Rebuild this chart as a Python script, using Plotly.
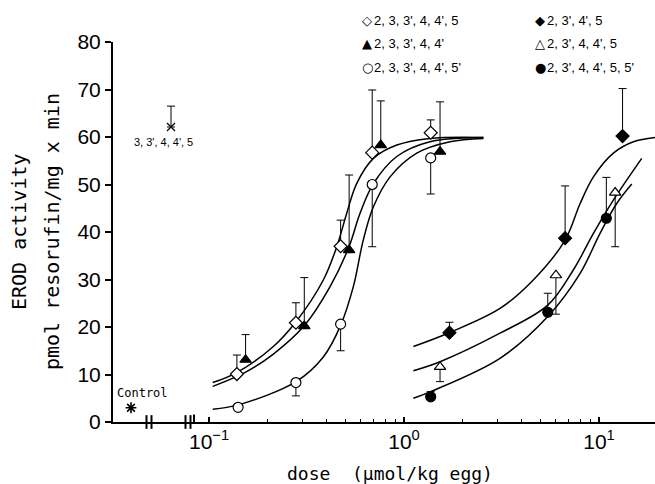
import plotly.graph_objects as go

# ---------------- data ----------------
# 2,3,3',4,4',5  (open diamond, error up)
dose_A = [0.139, 0.279, 0.473, 0.687, 1.37]
erod_A = [10.1, 20.9, 37.0, 56.7, 60.9]
err_A = [4.0, 4.2, 5.5, 13.2, 2.7]
# 2,3,3',4,4'  (filled triangle, error up)
dose_B = [0.154, 0.308, 0.523, 0.760, 1.53]
erod_B = [13.1, 20.2, 36.2, 58.3, 56.9]
err_B = [5.3, 10.2, 15.8, 9.3, 10.5]
# 2,3,3',4,4',5'  (open circle, error down)
dose_C = [0.141, 0.279, 0.473, 0.687, 1.37]
erod_C = [3.1, 8.3, 20.6, 50.0, 55.6]
err_C = [0.0, 2.8, 5.6, 13.1, 7.6]
# 2,3',4',5  (filled diamond, error up)
dose_D = [1.71, 6.70, 13.2]
erod_D = [18.8, 38.7, 60.2]
err_D = [2.2, 11.0, 10.0]
# 2,3',4,4',5  (open triangle, error down)
dose_E = [1.53, 6.01, 12.1]
erod_E = [11.6, 30.9, 48.3]
err_E = [3.1, 8.2, 11.4]
# 2,3',4,4',5,5'  (filled circle, error up)
dose_F = [1.37, 5.46, 10.9]
erod_F = [5.3, 23.1, 42.9]
err_F = [1.1, 4.0, 8.6]

# separate panel: control and 3,3',4,4',5
side_cats = ["Control", " ", "3,3',4,4',5"]
control_val = [3.0]
pcb126_val = [62.1]
pcb126_err = [4.4]

# fitted curves
fitA_dose = [0.1045, 0.1387, 0.2138, 0.2793, 0.3856, 0.4519, 0.5080, 0.5716, 0.6966, 0.9183, 1.358, 2.553]
fitA_erod = [8.3, 10.4, 15.9, 21.1, 29.9, 36.9, 43.9, 50.2, 55.5, 58.3, 59.7, 59.9]
fitB_dose = [0.1045, 0.1542, 0.2138, 0.3083, 0.4176, 0.5223, 0.5943, 0.6966, 0.9183, 1.358, 2.553]
fitB_erod = [7.5, 10.5, 14.3, 20.3, 28.5, 36.9, 43.9, 50.2, 55.9, 59.0, 59.9]
fitC_dose = [0.1045, 0.1413, 0.2793, 0.3856, 0.4735, 0.5495, 0.6180, 0.6966, 0.8482, 1.162, 1.721, 2.553]
fitC_erod = [2.7, 3.6, 8.5, 13.7, 20.4, 28.5, 38.3, 45.3, 51.6, 56.6, 59.0, 59.7]
fitD_dose = [1.117, 1.706, 3.105, 4.60, 6.70, 8.00, 9.36, 11.84, 15.0, 19.36]
fitD_erod = [15.9, 18.8, 23.9, 29.9, 38.3, 46.0, 51.6, 56.6, 59.0, 59.9]
fitE_dose = [1.117, 1.531, 3.105, 5.46, 7.38, 9.36, 11.84, 16.56]
fitE_erod = [10.8, 12.7, 18.7, 24.6, 32.0, 39.7, 46.7, 55.5]
fitF_dose = [1.117, 1.37, 3.105, 5.46, 8.00, 10.12, 12.32, 14.72]
fitF_erod = [5.0, 6.4, 13.4, 22.2, 31.3, 39.7, 46.0, 50.1]

x_tickvals = [0.1, 1, 10]
x_ticktext = ["10<sup>\u22121</sup>", "10<sup>0</sup>", "10<sup>1</sup>"]
x_minor = [0.2, 0.3, 0.4, 0.5, 0.6, 0.7, 0.8, 0.9, 2, 3, 4, 5, 6, 7, 8, 9]
y_tickvals = [0, 10, 20, 30, 40, 50, 60, 70, 80]

legend_rows = [
    ("\u25c7", "2, 3, 3', 4, 4', 5"),
    ("\u25b2", "2, 3, 3', 4, 4'"),
    ("\u25cb", "2, 3, 3', 4, 4', 5'"),
    ("\u25c6", "2, 3', 4', 5"),
    ("\u25b3", "2, 3', 4, 4', 5"),
    ("\u25cf", "2, 3', 4, 4', 5, 5'"),
]

# ---------------- figure ----------------
MONO = "DejaVu Sans Mono"
SANS = "Liberation Sans Narrow, Liberation Sans, Arial, sans-serif"
LEG = "Liberation Sans, DejaVu Sans, sans-serif"

fig = go.Figure()

for xd, yd in [(fitA_dose, fitA_erod), (fitB_dose, fitB_erod), (fitC_dose, fitC_erod),
               (fitD_dose, fitD_erod), (fitE_dose, fitE_erod), (fitF_dose, fitF_erod)]:
    fig.add_trace(go.Scatter(x=xd, y=yd, mode="lines", xaxis="x", yaxis="y",
                             line=dict(color="black", width=1.5, shape="spline", smoothing=1.0),
                             hoverinfo="skip", showlegend=False))


def points(x, y, err, up, symbol, fill, size):
    n = len(x)
    if up:
        ey = dict(type="data", symmetric=False, array=err, arrayminus=[0] * n)
    else:
        ey = dict(type="data", symmetric=False, array=[0] * n, arrayminus=err)
    ey.update(color="black", thickness=1, width=4)
    fig.add_trace(go.Scatter(x=x, y=y, mode="markers", xaxis="x", yaxis="y",
                             error_y=ey,
                             marker=dict(symbol=symbol, size=size, color=fill,
                                         line=dict(color="black", width=1.2)),
                             showlegend=False))


points(dose_A, erod_A, err_A, True, "diamond", "white", 10)
points(dose_B, erod_B, err_B, True, "triangle-up", "black", 10)
points(dose_C, erod_C, err_C, False, "circle", "white", 10)
points(dose_D, erod_D, err_D, True, "diamond", "black", 10)
points(dose_E, erod_E, err_E, False, "triangle-up", "white", 10)
points(dose_F, erod_F, err_F, True, "circle", "black", 10)

fig.add_trace(go.Scatter(x=[side_cats[0]], y=control_val, mode="markers", xaxis="x2", yaxis="y",
                         marker=dict(symbol="asterisk-open", size=9, color="black",
                                     line=dict(color="black", width=1.6)),
                         showlegend=False))
fig.add_trace(go.Scatter(x=[side_cats[2]], y=pcb126_val, mode="markers", xaxis="x2", yaxis="y",
                         error_y=dict(type="data", symmetric=False, array=pcb126_err, arrayminus=[0],
                                      color="black", thickness=1, width=4),
                         marker=dict(symbol="x-thin-open", size=8, color="black",
                                     line=dict(color="black", width=1.3)),
                         showlegend=False))

L, R, T, B = 113, 0, 42, 62
W, H = 655, 484
PW, PH = W - L - R, H - T - B
split = (194 - L) / PW


def px(xp):
    return (xp - L) / PW


def py(yp):
    return (H - B - yp) / PH


annotations = []
# legend
for i, (sym, txt) in enumerate(legend_rows):
    col = i // 3
    row = i % 3
    xs = 360 if col == 0 else 533
    ys = [20, 43, 67][row]
    annotations.append(dict(text=sym, x=px(xs), y=py(ys), xref="paper", yref="paper",
                            xanchor="left", yanchor="middle", showarrow=False,
                            font=dict(family="DejaVu Sans", size=13, color="black")))
    annotations.append(dict(text=txt, x=px(xs + 12), y=py(ys), xref="paper", yref="paper",
                            xanchor="left", yanchor="middle", showarrow=False,
                            font=dict(family=LEG, size=13, color="black")))

annotations.append(dict(text="3, 3', 4, 4', 5", x=px(132), y=py(142), xref="paper", yref="paper",
                        xanchor="left", yanchor="middle", showarrow=False,
                        font=dict(family=LEG, size=11, color="black")))
annotations.append(dict(text="Control", x=px(115), y=py(393), xref="paper", yref="paper",
                        xanchor="left", yanchor="middle", showarrow=False,
                        font=dict(family=MONO, size=12, color="black")))
annotations.append(dict(text="EROD activity", x=px(19), y=0.5, xref="paper", yref="paper",
                        xanchor="center", yanchor="middle", textangle=-90, showarrow=False,
                        font=dict(family=MONO, size=20, color="black")))
annotations.append(dict(text="pmol resorufin/mg x min", x=px(52), y=0.5, xref="paper", yref="paper",
                        xanchor="center", yanchor="middle", textangle=-90, showarrow=False,
                        font=dict(family=MONO, size=20, color="black")))
annotations.append(dict(text="dose  (\u00b5mol/kg egg)", x=px(390), y=py(473), xref="paper", yref="paper",
                        xanchor="center", yanchor="middle", showarrow=False,
                        font=dict(family=MONO, size=18, color="black")))

shapes = []
for xb in [146.5, 151.5, 185.5, 190.5]:
    shapes.append(dict(type="line", xref="paper", yref="paper", x0=px(xb), x1=px(xb),
                       y0=-0.018, y1=0.018, line=dict(color="black", width=2)))
shapes.append(dict(type="line", xref="paper", yref="paper", x0=px(194), x1=px(194),
                   y0=0, y1=0.02, line=dict(color="black", width=2)))

fig.update_layout(
    width=W, height=H,
    margin=dict(l=L, r=R, t=T, b=B),
    paper_bgcolor="white", plot_bgcolor="white",
    showlegend=False,
    xaxis=dict(type="log", domain=[split, 1], range=[-1.077, 1.287], anchor="y",
               tickmode="array", tickvals=x_tickvals, ticktext=x_ticktext,
               ticks="inside", ticklen=5, tickwidth=1.5, tickcolor="black",
               minor=dict(tickmode="array", tickvals=x_minor, ticks="inside", ticklen=3,
                          tickwidth=1, tickcolor="black", showgrid=False),
               showline=True, linewidth=2, linecolor="black",
               showgrid=False, zeroline=False,
               tickfont=dict(family=SANS, size=21, color="black")),
    xaxis2=dict(type="category", domain=[0, split], anchor="y",
                categoryorder="array", categoryarray=side_cats, range=[-0.9, 3.15],
                showticklabels=False, ticks="", showline=True, linewidth=2, linecolor="black",
                showgrid=False, zeroline=False),
    yaxis=dict(range=[0, 80], anchor="x2", tickmode="array", tickvals=y_tickvals,
               ticks="outside", ticklen=6, tickwidth=1.5, tickcolor="black",
               showline=True, linewidth=2, linecolor="black",
               showgrid=False, zeroline=False,
               tickfont=dict(family=SANS, size=21, color="black")),
    annotations=annotations,
    shapes=shapes,
)

fig.write_html("out.html", config={"displayModeBar": False},
               post_script="document.body.style.margin='0';document.body.style.overflow='hidden';")
